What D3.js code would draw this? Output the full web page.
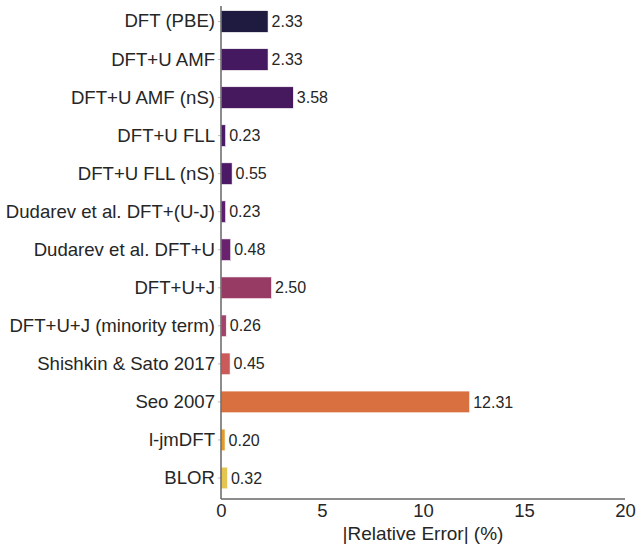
<!DOCTYPE html>
<html>
<head>
<meta charset="utf-8">
<script src="https://cdn.jsdelivr.net/npm/d3@7"></script>
<style>
  html, body { margin: 0; padding: 0; background: #fff; }
  svg { display: block; font-family: "Liberation Sans", Arial, Helvetica, sans-serif; }
</style>
</head>
<body>
<svg id="chart" width="638" height="546"></svg>
<script>
// Methods compared, top to bottom
const methods = [
  "DFT (PBE)", "DFT+U AMF", "DFT+U AMF (nS)", "DFT+U FLL", "DFT+U FLL (nS)",
  "Dudarev et al. DFT+(U-J)", "Dudarev et al. DFT+U", "DFT+U+J",
  "DFT+U+J (minority term)", "Shishkin & Sato 2017", "Seo 2007", "l-jmDFT", "BLOR"
];
// Absolute relative error (%)
const errors = [2.33, 2.33, 3.58, 0.23, 0.55, 0.23, 0.48, 2.50, 0.26, 0.45, 12.31, 0.20, 0.32];
// Bar fills
const colors = [
  "#1f1a3f", "#44195f", "#46195e", "#4a1a66", "#4b1966", "#5c1d6c", "#6a226e",
  "#973b64", "#a3436b", "#cb5a5a", "#d8703f", "#e39b2b", "#e3c54f"
];
const xTicks = [0, 5, 10, 15, 20];

const svg = d3.select("#chart");
const plotLeft = 221, plotRight = 625, plotTop = 2.5, plotBottom = 497, axisY = 499;

const x = d3.scaleLinear().domain([0, 20]).range([plotLeft, plotRight]);
const y = d3.scaleBand().domain(methods).range([plotTop, plotBottom]).paddingInner(0.43).paddingOuter(0.215);

// Bars
svg.append("g").selectAll("rect").data(methods).join("rect")
  .attr("x", x(0))
  .attr("y", d => y(d))
  .attr("width", (d, i) => x(errors[i]) - x(0))
  .attr("height", y.bandwidth())
  .attr("fill", (d, i) => colors[i])
  .attr("stroke", "#ffffff")
  .attr("stroke-width", 0.6);

// Value labels
svg.append("g").selectAll("text").data(methods).join("text")
  .attr("x", (d, i) => x(errors[i]) + 3.5)
  .attr("y", d => y(d) + y.bandwidth() / 2)
  .attr("dy", "0.35em")
  .attr("font-size", 16)
  .attr("fill", "#262626")
  .text((d, i) => errors[i].toFixed(2));

// Y axis (category labels)
const yAxis = svg.append("g").attr("transform", `translate(${plotLeft},0)`)
  .call(d3.axisLeft(y).tickSize(3).tickPadding(3));
yAxis.select(".domain").remove();
yAxis.selectAll(".tick line").attr("stroke", "#bbb");
yAxis.selectAll(".tick text").attr("font-size", 18.6).attr("fill", "#262626")
  .attr("font-family", "Liberation Sans, Arial, sans-serif");

// X axis
const xAxis = svg.append("g").attr("transform", `translate(0,${axisY})`)
  .call(d3.axisBottom(x).tickValues(xTicks).tickSize(0).tickPadding(5).tickFormat(d3.format("d")));
xAxis.select(".domain").remove();
xAxis.selectAll(".tick text").attr("font-size", 18.5).attr("fill", "#262626")
  .attr("font-family", "Liberation Sans, Arial, sans-serif");

// Spines
svg.append("line").attr("x1", plotLeft).attr("x2", plotLeft).attr("y1", 6).attr("y2", axisY)
  .attr("stroke", "#666").attr("stroke-width", 1.5);
svg.append("line").attr("x1", plotLeft).attr("x2", plotRight).attr("y1", axisY).attr("y2", axisY)
  .attr("stroke", "#666").attr("stroke-width", 1.5);

// Axis title
svg.append("text")
  .attr("x", x(10)).attr("y", 539.5)
  .attr("text-anchor", "middle")
  .attr("font-size", 19).attr("fill", "#262626")
  .text("|Relative Error| (%)");
</script>
</body>
</html>
